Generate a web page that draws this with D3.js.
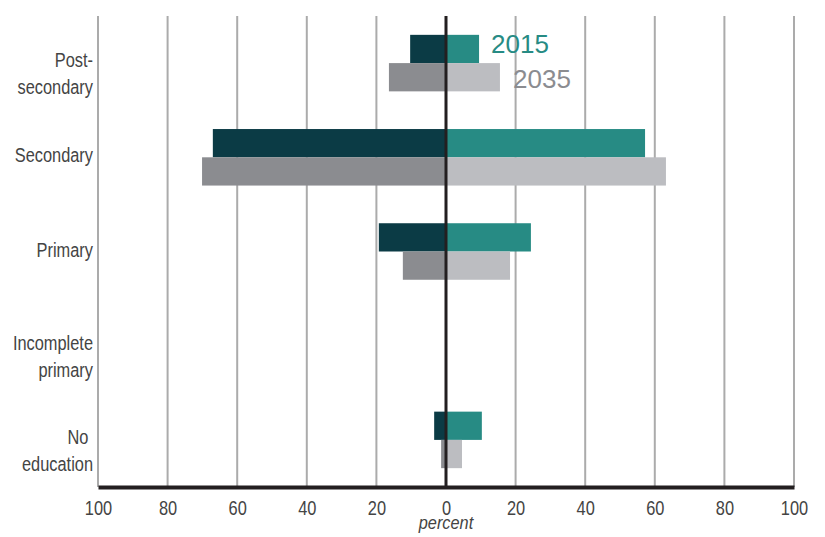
<!DOCTYPE html>
<html>
<head>
<meta charset="utf-8">
<script src="https://cdn.jsdelivr.net/npm/d3@7"></script>
<style>
  body { margin: 0; background: #fff; }
  svg { display: block; }
  .lbl { font-family: 'Liberation Sans', Arial, sans-serif; fill: #444; }
</style>
</head>
<body>
<svg id="chart" width="825" height="537"></svg>
<script>
const categories = ['Post-secondary', 'Secondary', 'Primary', 'Incomplete primary', 'No education'];
const catLines = [['Post-', 'secondary'], ['Secondary'], ['Primary'], ['Incomplete', 'primary'], ['No\u00a0', 'education']];
// left side (negative) and right side values, percent
const left2015 = [10.3, 67, 19.3, 0, 3.4];
const right2015 = [9.5, 57.2, 24.4, 0, 10.3];
const left2035 = [16.4, 70.1, 12.4, 0, 1.4];
const right2035 = [15.5, 63.2, 18.4, 0, 4.6];
const ticks = [-100, -80, -60, -40, -20, 0, 20, 40, 60, 80, 100];
const years = ['2015', '2035'];

const svg = d3.select('#chart');
const x = d3.scaleLinear().domain([-100, 100]).range([98, 794]);
const y = d3.scaleBand().domain(categories).range([16, 487]).paddingInner(0.4).paddingOuter(0.2);
const sub = d3.scaleBand().domain(years).range([0, y.bandwidth()]);

// grid
svg.append('g').selectAll('line').data(ticks.filter(d => d !== 0)).join('line')
  .attr('x1', d => x(d)).attr('x2', d => x(d))
  .attr('y1', 16).attr('y2', 487)
  .attr('stroke', '#ababab').attr('stroke-width', 2);

const series = [
  { year: '2015', vals: left2015, side: -1, color: '#0b3b45' },
  { year: '2015', vals: right2015, side: 1, color: '#278b84' },
  { year: '2035', vals: left2035, side: -1, color: '#8b8c90' },
  { year: '2035', vals: right2035, side: 1, color: '#bcbdc1' }
];

series.forEach(s => {
  svg.append('g').selectAll('rect').data(categories).join('rect')
    .attr('x', (c, i) => s.side < 0 ? x(-s.vals[i]) : x(0))
    .attr('width', (c, i) => Math.abs(x(s.vals[i]) - x(0)))
    .attr('y', c => y(c) + sub(s.year))
    .attr('height', sub.bandwidth())
    .attr('fill', s.color);
});

// zero line
svg.append('line')
  .attr('x1', x(0)).attr('x2', x(0)).attr('y1', 16).attr('y2', 487)
  .attr('stroke', '#231f20').attr('stroke-width', 3);

// bottom axis
const axis = d3.axisBottom(x).tickValues(ticks).tickSize(0).tickPadding(14)
  .tickFormat(d => Math.abs(d));
const ax = svg.append('g').attr('transform', 'translate(0,487)').call(axis);
ax.select('.domain').attr('stroke', '#231f20').attr('stroke-width', 4);
ax.selectAll('text').attr('class', 'lbl').attr('font-size', 20).attr('fill', '#444')
  .attr('transform', 'scale(0.82,1)');

svg.append('text').attr('class', 'lbl')
  .attr('transform', `translate(${x(0)},529) scale(0.86,1)`).attr('text-anchor', 'middle')
  .attr('font-size', 19).attr('font-style', 'italic').text('percent');

// category labels
const lab = svg.append('g').selectAll('text').data(categories).join('text')
  .attr('class', 'lbl').attr('text-anchor', 'end').attr('font-size', 21)
  .attr('transform', c => `translate(93,${y(c) + y.bandwidth() / 2 + 4}) scale(0.78,1)`);
lab.each(function (c, i) {
  const t = d3.select(this);
  const lines = catLines[i];
  if (lines.length === 1) {
    t.append('tspan').attr('x', 0).attr('dy', 1).text(lines[0]);
  } else {
    lines.forEach((l, j) => t.append('tspan').attr('x', 0).attr('dy', j === 0 ? 0 : 27).text(l));
  }
});

// legend
svg.append('text').attr('x', 491).attr('y', 53)
  .attr('font-family', 'Liberation Sans, Arial, sans-serif').attr('font-size', 26)
  .attr('fill', '#278b84').text(years[0]);
svg.append('text').attr('x', 513).attr('y', 88)
  .attr('font-family', 'Liberation Sans, Arial, sans-serif').attr('font-size', 26)
  .attr('fill', '#8b8c90').text(years[1]);
</script>
</body>
</html>
